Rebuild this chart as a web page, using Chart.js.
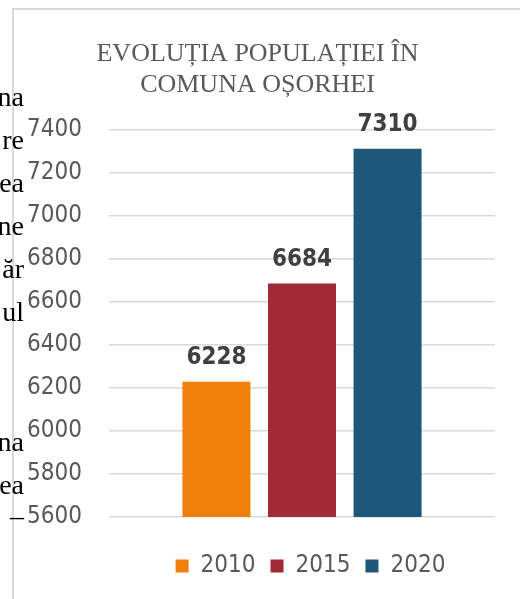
<!DOCTYPE html>
<html>
<head>
<meta charset="utf-8">
<script src="https://cdn.jsdelivr.net/npm/chart.js@4"></script>
<style>
html,body{margin:0;padding:0;background:#fff;}
body{width:520px;height:599px;position:relative;overflow:hidden;}
.frame{position:absolute;left:12px;top:8px;width:600px;height:700px;border-left:2px solid #d9d9d9;border-top:2px solid #d9d9d9;}
#chart{position:absolute;left:15px;top:10px;}
.side{position:absolute;right:496px;font:28px 'Liberation Serif','Times New Roman',serif;color:#000;line-height:28px;white-space:nowrap;}
</style>
</head>
<body>
<div class="frame"></div>
<canvas id="chart" width="485" height="589"></canvas>

<div class="side" style="top:83px">na</div>
<div class="side" style="top:126px">re</div>
<div class="side" style="top:169px">ea</div>
<div class="side" style="top:212px">ne</div>
<div class="side" style="top:255px">ăr</div>
<div class="side" style="top:298px">ul</div>
<div class="side" style="top:428px">na</div>
<div class="side" style="top:471px">ea</div>
<div class="side" style="top:493px">_</div>

<script>
// values
const categories=[""];
const years=["2010","2015","2020"];
const population=[6228,6684,7310];
const barColors=["#F0800A","#A02A38","#1D5779"];
const yMin=5600;
const yMax=7400;
const yStep=200;

const titleLines=["EVOLUȚIA POPULAȚIEI ÎN","COMUNA OȘORHEI"];

const sansFont="'DejaVu Sans Condensed','Liberation Sans',sans-serif";

// value on top of each bar
const barLabels={
  id:"barLabels",
  afterDatasetsDraw(chart){
    const ctx=chart.ctx;
    ctx.save();
    ctx.font="bold 24px "+sansFont;
    ctx.fillStyle="#404040";
    ctx.textAlign="center";
    ctx.textBaseline="alphabetic";
    chart.data.datasets.forEach((ds,i)=>{
      chart.getDatasetMeta(i).data.forEach((bar,j)=>{
        ctx.fillText(String(ds.data[j]),bar.x,bar.y-18);
      });
    });
    ctx.restore();
  }
};

// legend sits right of the centre in the original
const legendShift={
  id:"legendShift",
  afterLayout(chart){
    chart.legend.left+=53;
    chart.legend.right+=53;
  }
};

new Chart(
  document.getElementById("chart"),
  {
    type:"bar",
    data:{
      labels:categories,
      datasets:years.map((y,i)=>({
        label:y,
        data:[population[i]],
        backgroundColor:barColors[i],
        categoryPercentage:0.665,
        barPercentage:0.795
      }))
    },
    options:{
      responsive:false,
      animation:false,
      layout:{padding:{left:5,right:5,top:0,bottom:11}},
      scales:{
        x:{
          grid:{display:false},
          border:{display:false},
          ticks:{display:false},
          afterFit:(s)=>{s.height=22;}
        },
        y:{
          min:yMin,
          max:yMax,
          ticks:{
            stepSize:yStep,
            padding:27,
            color:"#595959",
            font:{family:sansFont,size:24},
            callback:(v)=>String(v)
          },
          grid:{color:"#d9d9d9",lineWidth:1.5,drawTicks:false},
          border:{display:false},
          afterFit:(s)=>{s.width=89;}
        }
      },
      plugins:{
        title:{
          display:true,
          text:titleLines,
          color:"#595959",
          font:{family:"'Liberation Serif','Times New Roman',serif",size:26,weight:"normal",lineHeight:1.19},
          padding:{top:29,bottom:28.5}
        },
        legend:{
          position:"bottom",
          labels:{
            boxWidth:13,
            boxHeight:13,
            padding:15,
            color:"#595959",
            font:{family:sansFont,size:24}
          }
        },
        tooltip:{enabled:false}
      }
    },
    plugins:[barLabels,legendShift]
  }
);
</script>
</body>
</html>
